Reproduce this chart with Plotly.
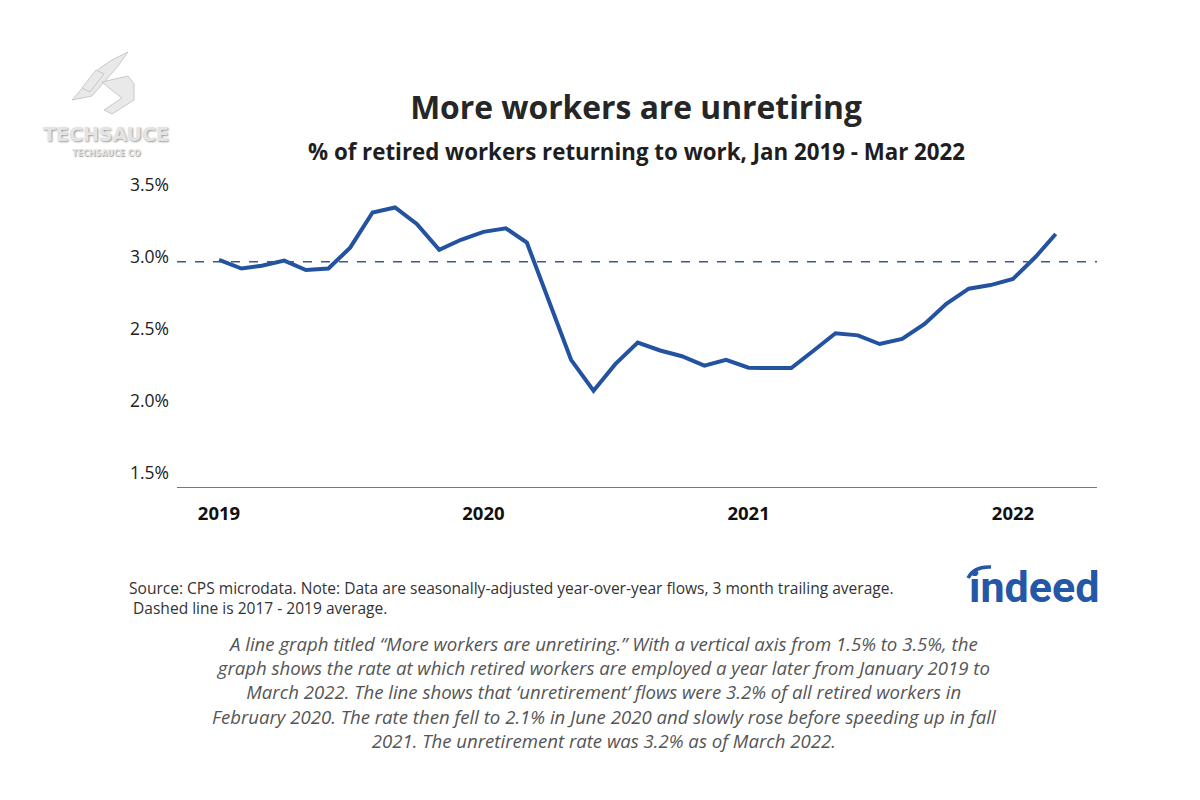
import plotly.graph_objects as go
import pandas as pd

# ---- data ----
months = pd.date_range("2019-01-01", "2022-03-01", freq="MS").strftime("%Y-%m-%d").tolist()
rate = [2.98, 2.92, 2.94, 2.975, 2.91, 2.92, 3.065, 3.31, 3.345, 3.23, 3.05, 3.12,
        3.175, 3.20, 3.10, 2.69, 2.285, 2.07, 2.255, 2.405, 2.35, 2.31, 2.245, 2.285,
        2.23, 2.228, 2.228, 2.35, 2.47, 2.455, 2.395, 2.43, 2.535, 2.675, 2.78, 2.805,
        2.848, 3.00, 3.16]
avg_2017_2019 = 2.967
year_ticks = ["2019-01-01", "2020-01-01", "2021-01-01", "2022-01-01"]
year_labels = ["2019", "2020", "2021", "2022"]
y_ticks = [1.5, 2.0, 2.5, 3.0, 3.5]
y_labels = ["1.5%", "2.0%", "2.5%", "3.0%", "3.5%"]

FONT = "Open Sans"
BLUE = "#2353a0"

# page offset (browser body margin)
OFF = 8
L, R, T, B = 177 - OFF, 111, 178 - OFF, 321
W, H = 1200, 800
pw = W - L - R
ph = H - T - B


def px(xs):
    return (xs - OFF - L) / pw


def py(ys):
    return (H - B - (ys - OFF)) / ph


fig = go.Figure()
fig.add_trace(go.Scatter(x=months, y=rate, mode="lines",
                         line=dict(color=BLUE, width=4), hoverinfo="skip",
                         showlegend=False))

fig.add_shape(type="line", xref="paper", x0=0, x1=1, yref="y",
              y0=avg_2017_2019, y1=avg_2017_2019,
              line=dict(color="#3a5890", width=1.5, dash="dash"))

fig.update_layout(
    width=W, height=H,
    paper_bgcolor="white", plot_bgcolor="white",
    margin=dict(l=L, r=R, t=T, b=B),
    font=dict(family=FONT, color="#222"),
    title=dict(
        text="<b>More workers are unretiring</b>",
        x=px(636), xanchor="center", y=1 - (108 - OFF) / H, yanchor="middle",
        xref="paper",
        font=dict(size=31.8, color="#262626", family=FONT)),
    xaxis=dict(
        type="date", range=["2018-11-04", "2022-04-27"],
        tickvals=year_ticks, ticktext=["<b>%s</b>" % t for t in year_labels],
        tickfont=dict(size=18.5, color="#111", family=FONT),
        showgrid=False, zeroline=False, showline=True,
        linecolor="#777", linewidth=1.2, ticks="", ticklabelstandoff=10),
    yaxis=dict(
        range=[1.4, 3.55], tickvals=y_ticks, ticktext=y_labels,
        tickfont=dict(size=17.5, color="#222", family=FONT),
        showgrid=False, zeroline=False, showline=False, ticks="",
        ticklabelstandoff=7),
)

# subtitle
fig.add_annotation(text="<b>% of retired workers returning to work, Jan 2019 - Mar 2022</b>",
                   xref="paper", yref="paper", x=px(636), y=py(151),
                   xanchor="center", yanchor="middle", showarrow=False,
                   font=dict(size=22.3, color="#1e1e1e", family=FONT))

# source note
fig.add_annotation(
    text="Source: CPS microdata. Note: Data are seasonally-adjusted year-over-year flows, 3 month trailing average.<br>"
         " Dashed line is 2017 - 2019 average.",
    xref="paper", yref="paper", x=px(127), y=py(598), xanchor="left", yanchor="middle",
    align="left", showarrow=False, font=dict(size=15.55, color="#333", family=FONT))

# indeed logo text
fig.add_annotation(text="<b>indeed</b>", xref="paper", yref="paper",
                   x=px(1034), y=py(587), xanchor="center", yanchor="middle",
                   showarrow=False, font=dict(size=43, color="#2557a7", family="Roboto"))
fig.add_shape(type="path", xref="paper", yref="paper",
              path="M %f %f Q %f %f %f %f" % (px(968), py(578), px(974), py(566), px(991), py(567)),
              line=dict(color="#2557a7", width=3.5))

# caption
caption = ("A line graph titled \u201cMore workers are unretiring.\u201d With a vertical axis from 1.5% to 3.5%, the<br>"
           "graph shows the rate at which retired workers are employed a year later from January 2019 to<br>"
           "March 2022. The line shows that \u2018unretirement\u2019 flows were 3.2% of all retired workers in<br>"
           "February 2020. The rate then fell to 2.1% in June 2020 and slowly rose before speeding up in fall<br>"
           "2021. The unretirement rate was 3.2% as of March 2022.")
fig.add_annotation(text="<i>%s</i>" % caption, xref="paper", yref="paper",
                   x=px(604), y=py(692), xanchor="center", yanchor="middle",
                   align="center", showarrow=False,
                   font=dict(size=18.6, color="#555", family=FONT))

# watermark
fig.add_annotation(text="<b>TECHSAUCE</b>", xref="paper", yref="paper",
                   x=px(106), y=py(134), xanchor="center", yanchor="middle",
                   showarrow=False,
                   font=dict(size=19, color="#e4e4e4", family="DejaVu Sans",
                             shadow="1px 1px 2px #9a9a9a"))
fig.add_annotation(text="<b>TECHSAUCE CO</b>", xref="paper", yref="paper",
                   x=px(106), y=py(153), xanchor="center", yanchor="middle",
                   showarrow=False,
                   font=dict(size=8, color="#e4e4e4", family="DejaVu Sans",
                             shadow="1px 1px 1px #a0a0a0"))
for path in [
    [(72, 100), (100, 68), (112, 60), (128, 52), (118, 66), (92, 96)],
    [(102, 82), (128, 76), (134, 84), (134, 100), (112, 114), (104, 110), (122, 98), (114, 92)],
    [(82, 88), (96, 70), (104, 74), (90, 92)],
]:
    d = "M " + " L ".join("%f %f" % (px(a), py(b)) for a, b in path) + " Z"
    fig.add_shape(type="path", xref="paper", yref="paper", path=d,
                  fillcolor="#e9e9e9", line=dict(color="#c8c8c8", width=1), layer="below")

fig.write_html("out.html")
